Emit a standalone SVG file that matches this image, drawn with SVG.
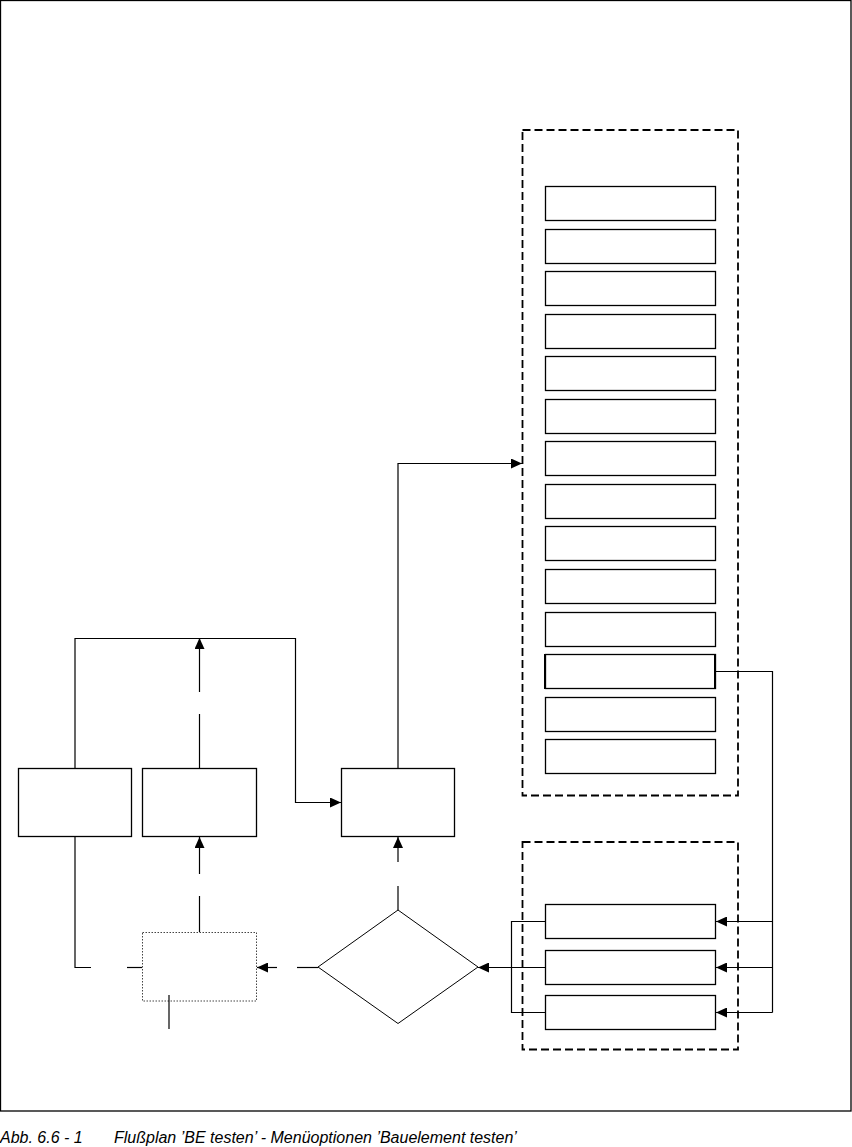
<svg xmlns="http://www.w3.org/2000/svg" width="852" height="1147" viewBox="0 0 852 1147">
<style>
.box{fill:#fff;stroke:#000;stroke-width:1.3}
.grp{fill:none;stroke:#000;stroke-width:1.8;stroke-dasharray:8,4}
.dot{fill:#fff;stroke:#444;stroke-width:1;stroke-dasharray:1.5,1.5}
.ln{fill:none;stroke:#000;stroke-width:1.2}
.cap{font-family:"Liberation Sans",Arial,sans-serif;font-size:16px;font-style:italic;fill:#000}
</style>
<defs>
<marker id="ah" viewBox="0 0 11 10" refX="11" refY="5" markerWidth="11" markerHeight="10" markerUnits="userSpaceOnUse" orient="auto">
<path d="M0,0 L11,5 L0,10 z" fill="#000"/>
</marker>
</defs>
<rect x="0.5" y="0.5" width="850.5" height="1110.5" fill="#fff" stroke="#000" stroke-width="1.3"/>
<g id="group-upper"><rect class="grp" x="522.5" y="130" width="215.5" height="665.5"/></g>
<g id="group-lower"><rect class="grp" x="522.5" y="842" width="215.5" height="207.5"/></g>
<g id="menu-items">
<g id="m1"><rect class="box" x="545.5" y="186.5" width="170" height="34"/></g>
<g id="m2"><rect class="box" x="545.5" y="229.5" width="170" height="34"/></g>
<g id="m3"><rect class="box" x="545.5" y="271.5" width="170" height="34"/></g>
<g id="m4"><rect class="box" x="545.5" y="314.5" width="170" height="34"/></g>
<g id="m5"><rect class="box" x="545.5" y="356.5" width="170" height="34"/></g>
<g id="m6"><rect class="box" x="545.5" y="399.5" width="170" height="34"/></g>
<g id="m7"><rect class="box" x="545.5" y="441.5" width="170" height="34"/></g>
<g id="m8"><rect class="box" x="545.5" y="484.5" width="170" height="34"/></g>
<g id="m9"><rect class="box" x="545.5" y="526.5" width="170" height="34"/></g>
<g id="m10"><rect class="box" x="545.5" y="569.5" width="170" height="34"/></g>
<g id="m11"><rect class="box" x="545.5" y="612.5" width="170" height="34"/></g>
<g id="m12"><rect class="box" x="545.5" y="654.5" width="170" height="34"/><line x1="545" y1="654" x2="545" y2="689" stroke="#000" stroke-width="2"/><line x1="715" y1="654" x2="715" y2="689" stroke="#000" stroke-width="2"/></g>
<g id="m13"><rect class="box" x="545.5" y="697.5" width="170" height="34"/></g>
<g id="m14"><rect class="box" x="545.5" y="739.5" width="170" height="34"/></g>
</g>
<g id="sub-items">
<g id="s1"><rect class="box" x="545.5" y="904.5" width="170" height="34"/></g>
<g id="s2"><rect class="box" x="545.5" y="950.5" width="170" height="34"/></g>
<g id="s3"><rect class="box" x="545.5" y="995.5" width="170" height="34"/></g>
</g>
<g id="boxA"><rect class="box" x="18.5" y="768.5" width="113" height="68"/></g>
<g id="boxB"><rect class="box" x="142.5" y="768.5" width="114" height="68"/></g>
<g id="boxC"><rect class="box" x="341.5" y="768.5" width="113" height="68"/></g>
<g id="boxD"><rect class="dot" x="142.5" y="932.5" width="114" height="68.5"/></g>
<g id="decision"><polygon points="398,910 478,967 398,1023.5 318,967" fill="#fff" stroke="#000" stroke-width="1"/></g>
<g id="connectors">
<polyline class="ln" points="398,768 398,463.5 522,463.5" marker-end="url(#ah)"/>
<polyline class="ln" points="75,768 75,638.5 295.5,638.5 295.5,802.5 341,802.5" marker-end="url(#ah)"/>
<line class="ln" x1="199.5" y1="768" x2="199.5" y2="714"/>
<line class="ln" x1="199.5" y1="692" x2="199.5" y2="638" marker-end="url(#ah)"/>
<line class="ln" x1="199.5" y1="932" x2="199.5" y2="896"/>
<line class="ln" x1="199.5" y1="874" x2="199.5" y2="837" marker-end="url(#ah)"/>
<polyline class="ln" points="75,836 75,967.5 91,967.5"/>
<line class="ln" x1="127" y1="967.5" x2="142" y2="967.5"/>
<line class="ln" x1="318" y1="967.5" x2="297" y2="967.5"/>
<line class="ln" x1="277" y1="967.5" x2="257" y2="967.5" marker-end="url(#ah)"/>
<line class="ln" x1="398" y1="910" x2="398" y2="886"/>
<line class="ln" x1="398" y1="862" x2="398" y2="837" marker-end="url(#ah)"/>
<polyline class="ln" points="716,671.5 772.5,671.5 772.5,1012.5"/>
<line class="ln" x1="772.5" y1="921.5" x2="716" y2="921.5" marker-end="url(#ah)"/>
<line class="ln" x1="772.5" y1="967.5" x2="716" y2="967.5" marker-end="url(#ah)"/>
<line class="ln" x1="772.5" y1="1012.5" x2="716" y2="1012.5" marker-end="url(#ah)"/>
<polyline class="ln" points="545,921.5 511.5,921.5 511.5,1012.5 545,1012.5"/>
<line class="ln" x1="545" y1="967.5" x2="478" y2="967.5" marker-end="url(#ah)"/>
<line class="ln" x1="169" y1="995" x2="169" y2="1029"/>
</g>
<text class="cap" x="0" y="1143">Abb. 6.6 - 1</text>
<text class="cap" x="114" y="1143">Flußplan ’BE testen’ - Menüoptionen ’Bauelement testen’</text>
</svg>
